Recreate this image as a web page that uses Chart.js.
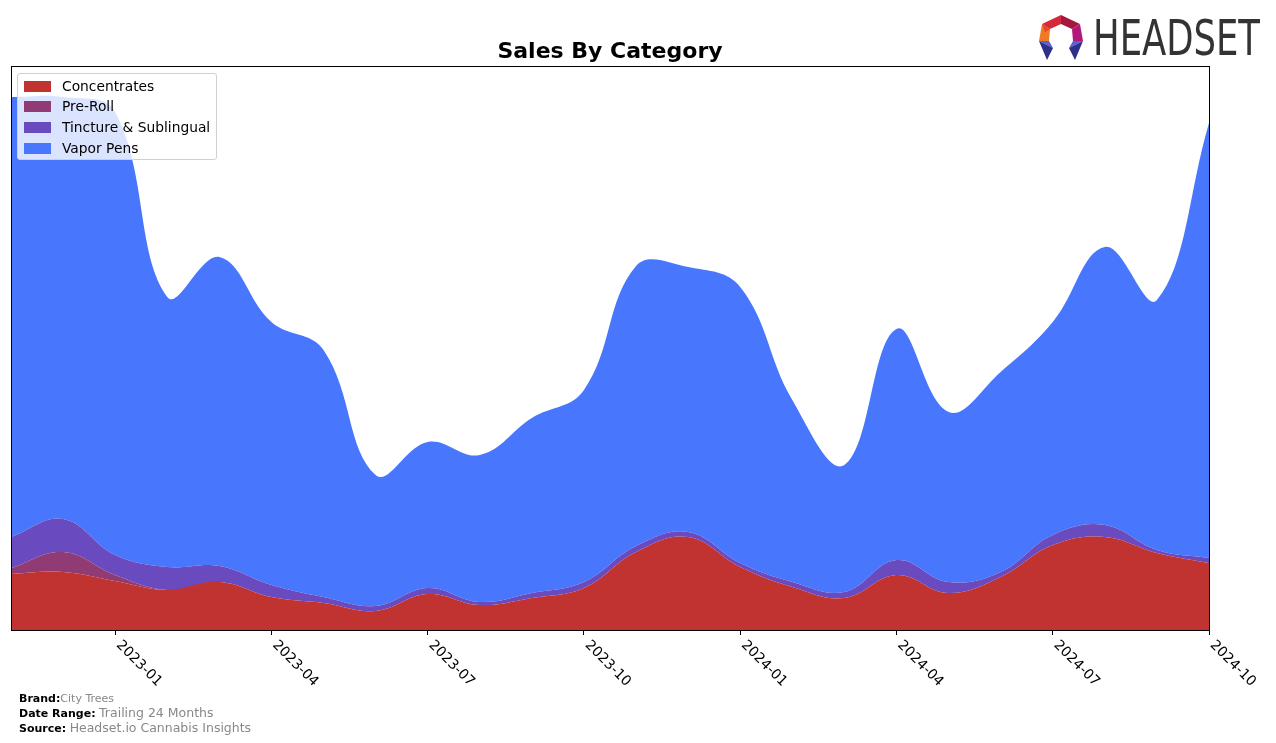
<!DOCTYPE html>
<html>
<head>
<meta charset="utf-8">
<script src="https://cdn.jsdelivr.net/npm/chart.js@4/dist/chart.umd.min.js"></script>
<style>
  body { margin: 0; background: #fff; font-family: "DejaVu Sans", sans-serif; }
  #wrap { position: relative; width: 1276px; height: 743px; }
  #title { position: absolute; left: 11px; width: 1198px; top: 38px; line-height: 26px; text-align: center; font-weight: bold; font-size: 22px; color: #000; }
  #legend { position: absolute; left: 17px; top: 73px; width: 198px; height: 85px; background: rgba(255,255,255,0.8); border: 1px solid #d0d0d0; border-radius: 3px; font-size: 13.8px; color: #000; }
  #legend div { position: absolute; left: 6px; height: 16px; line-height: 16px; white-space: nowrap; }
  #legend span { display: inline-block; width: 27px; height: 11px; margin-right: 11px; vertical-align: -1px; }
  #footer { position: absolute; left: 19px; top: 692px; font-size: 11px; line-height: 14px; color: #000; }
  #footer b { font-weight: bold; }
  #footer .v { color: #888; }
  #footer .v2 { color: #888; font-size: 12.5px; }
  #logo { position: absolute; left: 1037px; top: 14px; }
  #logotext { position: absolute; left: 1093px; top: 14px; font-family: "Liberation Sans Narrow", "DejaVu Sans Condensed", sans-serif; font-size: 49px; line-height: 49px; color: #333; transform-origin: 0 0; white-space: nowrap; }
</style>
</head>
<body>
<div id="wrap">
  <canvas id="chart" width="1276" height="743"></canvas>
  <div id="title">Sales By Category</div>
  <div id="legend"></div>
  <div id="footer">
    <div><b>Brand:</b><span class="v">City Trees</span></div>
    <div><b>Date Range:</b> <span class="v2">Trailing 24 Months</span></div>
    <div><b>Source:</b> <span class="v2">Headset.io Cannabis Insights</span></div>
  </div>
  <svg id="logo" width="48" height="47" viewBox="0 0 48 47">
    <polygon points="5,10 24,1 24,10 13,15" fill="#d42a3c"/>
    <polygon points="24,1 43,10 35,15 24,10" fill="#a6173e"/>
    <polygon points="5,10 13,15 12,27 2,27" fill="#ef7a25"/>
    <polygon points="5,10 13,15 8,18" fill="#e8452c"/>
    <polygon points="43,10 46,27 36,27 35,15" fill="#b4177c"/>
    <polygon points="2,27 12,27 16,34" fill="#5b5fd6"/>
    <polygon points="2,27 16,34 10,46" fill="#2d2f88"/>
    <polygon points="46,27 36,27 32,34" fill="#5b5fd6"/>
    <polygon points="46,27 32,34 38,46" fill="#2d2f88"/>
  </svg>
  <div id="logotext">HEADSET</div>
</div>
<script>
const months = ['2022-11', '2022-12', '2023-01', '2023-02', '2023-03', '2023-04', '2023-05', '2023-06',
  '2023-07', '2023-08', '2023-09', '2023-10', '2023-11', '2023-12', '2024-01', '2024-02',
  '2024-03', '2024-04', '2024-05', '2024-06', '2024-07', '2024-08', '2024-09', '2024-10'];
const tickLabels = ['2023-01', '2023-04', '2023-07', '2023-10', '2024-01', '2024-04', '2024-07', '2024-10'];

const concentrates = [56, 58, 49, 40, 48, 33, 27, 19, 36, 25, 32, 42, 78, 93, 63, 43, 32, 55, 37, 53, 85, 93, 77, 67];
const preRoll = [6, 20, 6, 0, 0, 0, 0, 0, 0, 0, 0, 0, 0, 0, 0, 0, 0, 0, 0, 0, 0, 0, 0, 0];
const tincture = [31, 33, 20, 23, 16, 12, 6, 5, 6, 3, 5, 6, 6, 5, 4, 5, 6, 15, 11, 5, 10, 12, 3, 5];
const vaporPens = [440, 422, 443, 270, 309, 263, 247, 131, 146, 147, 175, 192, 280, 265, 276, 182, 127, 231, 170, 200, 213, 278, 250, 435];

const seriesNames = ['Concentrates', 'Pre-Roll', 'Tincture & Sublingual', 'Vapor Pens'];
const seriesColors = ['#c13330', '#913b74', '#6a4bbf', '#4877fe'];
const seriesData = [concentrates, preRoll, tincture, vaporPens];

// legend overlay
const legendEl = document.getElementById('legend');
seriesNames.forEach((name, i) => {
  const row = document.createElement('div');
  row.style.top = (3.5 + i * 20.7) + 'px';
  row.innerHTML = '<span style="background:' + seriesColors[i] + '"></span>' + name;
  legendEl.appendChild(row);
});

// squeeze the logo word to the reference width
const logoText = document.getElementById('logotext');
logoText.style.transform = 'scaleX(' + (167 / logoText.getBoundingClientRect().width) + ')';

const frameAndLabels = {
  id: 'frameAndLabels',
  afterDraw(chart) {
    const { ctx, chartArea } = chart;
    const xs = chart.scales.x;
    ctx.save();
    ctx.strokeStyle = '#000';
    ctx.lineWidth = 1;
    ctx.strokeRect(chartArea.left + 0.5, chartArea.top + 0.5, chartArea.right - chartArea.left, chartArea.bottom - chartArea.top);
    ctx.fillStyle = '#000';
    ctx.font = '14px "DejaVu Sans"';
    ctx.textAlign = 'left';
    ctx.textBaseline = 'top';
    xs.ticks.forEach((t, i) => {
      const px = xs.getPixelForTick(i);
      ctx.save();
      ctx.translate(px + 8, chartArea.bottom + 8);
      ctx.rotate(Math.PI / 4);
      ctx.fillText(xs.getLabelForValue(t.value), 0, 0);
      ctx.restore();
    });
    ctx.restore();
  }
};

new Chart(document.getElementById('chart'), {
  type: 'line',
  data: {
    labels: months,
    datasets: seriesData.map((d, i) => ({
      label: seriesNames[i],
      data: d,
      backgroundColor: seriesColors[i],
      borderWidth: 0,
      pointRadius: 0,
      tension: 0.4,
      fill: i === 0 ? 'origin' : '-1'
    }))
  },
  options: {
    responsive: false,
    animation: false,
    layout: { padding: { left: 11, top: 66, right: 67, bottom: 108 } },
    plugins: { legend: { display: false }, title: { display: false }, tooltip: { enabled: false } },
    scales: {
      x: {
        offset: false,
        grid: { drawOnChartArea: false, drawTicks: true, tickLength: 5, color: '#000' },
        border: { display: true, color: '#000' },
        ticks: { display: false, autoSkip: false },
        afterBuildTicks: (scale) => {
          scale.ticks = scale.ticks.filter(t => tickLabels.includes(months[t.value]));
        }
      },
      y: {
        display: false,
        stacked: true,
        min: 0,
        max: 564
      }
    }
  },
  plugins: [frameAndLabels]
});
</script>
</body>
</html>
